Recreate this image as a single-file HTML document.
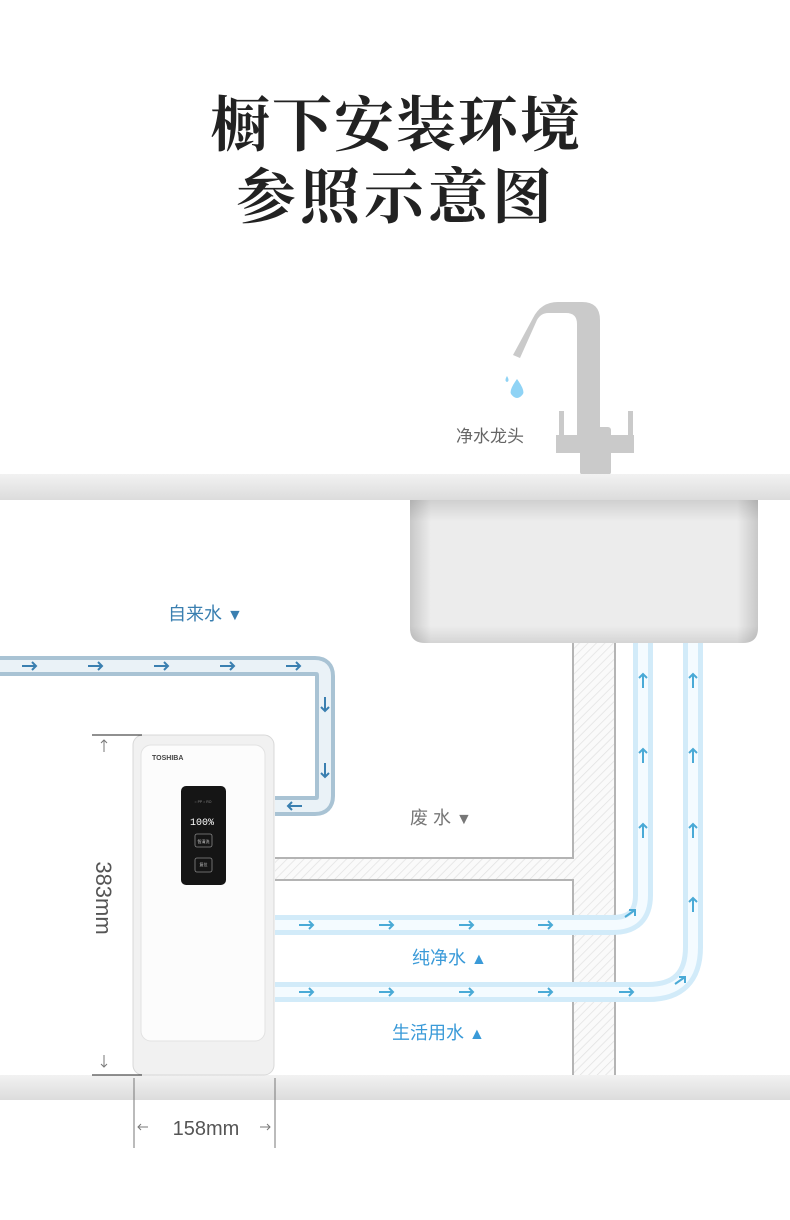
<!DOCTYPE html>
<html><head><meta charset="utf-8"><style>
html,body{margin:0;padding:0;background:#fff;}
body{width:790px;height:1215px;overflow:hidden;}
</style></head><body>
<svg width="790" height="1215" viewBox="0 0 790 1215" xmlns="http://www.w3.org/2000/svg">
<defs>
<linearGradient id="ct" x1="0" y1="0" x2="0" y2="1"><stop offset="0" stop-color="#f2f2f2"/><stop offset="1" stop-color="#dcdcdc"/></linearGradient>
<linearGradient id="skh" x1="0" y1="0" x2="1" y2="0"><stop offset="0" stop-color="#c8c8c8"/><stop offset="0.06" stop-color="#ececec"/><stop offset="0.94" stop-color="#ececec"/><stop offset="1" stop-color="#c8c8c8"/></linearGradient>
<linearGradient id="skv" x1="0" y1="0" x2="0" y2="1"><stop offset="0" stop-color="#000" stop-opacity="0.12"/><stop offset="0.15" stop-color="#000" stop-opacity="0"/><stop offset="0.88" stop-color="#000" stop-opacity="0"/><stop offset="1" stop-color="#000" stop-opacity="0.1"/></linearGradient>
<pattern id="hatch" width="6" height="6" patternUnits="userSpaceOnUse" patternTransform="rotate(45)"><rect width="6" height="6" fill="#fafafa"/><line x1="0" y1="0" x2="0" y2="6" stroke="#e2e2e2" stroke-width="1.5"/></pattern>
</defs>
<text x="396" y="146" text-anchor="middle" font-family="'Noto Serif CJK SC',serif" font-weight="bold" font-size="60" fill="#222" letter-spacing="2">橱下安装环境</text>
<text x="396" y="218" text-anchor="middle" font-family="'Noto Serif CJK SC',serif" font-weight="bold" font-size="60" fill="#222" letter-spacing="4">参照示意图</text>

<!-- faucet -->
<g fill="#cacaca">
<path d="M513 355 L533 318 Q541 302 558 302 L582 302 Q600 302 600 320 L600 440 L577 440 L577 324 Q577 313 566 313 L548 313 Q541 313 537 320 L520 358 Z"/>
<rect x="580" y="427" width="31" height="48" rx="3"/>
<rect x="556" y="435" width="78" height="18"/>
<rect x="559" y="411" width="5" height="26"/>
<rect x="628" y="411" width="5" height="26"/>
</g>
<path d="M507 376 q-3 5 0 6 q3 -1 0 -6z" fill="#8fd3f5"/>
<path d="M517 379 q-8 11 -6 15 q6 8 12 0 q2 -4 -6 -15z" fill="#8fd3f5"/>
<text x="456" y="442" font-family="'Liberation Sans','Noto Sans CJK SC',sans-serif" font-size="17" fill="#666">净水龙头</text>

<!-- countertop -->
<rect x="0" y="474" width="790" height="26" fill="url(#ct)"/>
<path d="M410 500 H758 V628 Q758 643 743 643 H425 Q410 643 410 628Z" fill="url(#skh)"/>
<path d="M410 500 H758 V628 Q758 643 743 643 H425 Q410 643 410 628Z" fill="url(#skv)"/>

<!-- waste pipe -->
<rect x="573" y="643" width="42" height="432" fill="url(#hatch)"/>
<rect x="275" y="858" width="300" height="22" fill="url(#hatch)"/>
<g stroke="#b4b4b4" stroke-width="2" fill="none">
<path d="M573 643 V858 H275"/>
<path d="M275 880 H573 V1075"/>
<path d="M615 643 V1075"/>
</g>
<text x="410" y="824" font-family="'Liberation Sans','Noto Sans CJK SC',sans-serif" font-size="18" fill="#777">废 水 <tspan font-size="16">▼</tspan></text>

<!-- tap water pipe -->
<path d="M0 666 H315 Q325 666 325 676 V796 Q325 806 315 806 H275" fill="none" stroke="#a9c3d4" stroke-width="20"/>
<path d="M0 666 H315 Q325 666 325 676 V796 Q325 806 315 806 H275" fill="none" stroke="#eaf2f7" stroke-width="12"/>
<g stroke="#3a7fb0" stroke-width="2" fill="none">
<path d="M22 666h14M32 662l4 4l-4 4"/><path d="M88 666h14M98 662l4 4l-4 4"/><path d="M154 666h14M164 662l4 4l-4 4"/><path d="M220 666h14M230 662l4 4l-4 4"/><path d="M286 666h14M296 662l4 4l-4 4"/>
<path d="M325 697v14M321 707l4 4l4 -4"/><path d="M325 763v14M321 773l4 4l4 -4"/>
<path d="M302 806h-14M292 802l-4 4l4 4"/>
</g>
<text x="168" y="620" font-family="'Liberation Sans','Noto Sans CJK SC',sans-serif" font-size="18" fill="#3a7fb0">自来水 <tspan font-size="16">▼</tspan></text>

<!-- pure water & living water pipes -->
<g fill="none">
<path d="M275 925 H613 Q643 925 643 895 V643" stroke="#d2ebf9" stroke-width="20"/>
<path d="M275 925 H613 Q643 925 643 895 V643" stroke="#f4fbff" stroke-width="10"/>
<path d="M275 992 H648 Q693 992 693 947 V643" stroke="#d2ebf9" stroke-width="20"/>
<path d="M275 992 H648 Q693 992 693 947 V643" stroke="#f4fbff" stroke-width="10"/>
</g>
<g stroke="#4aaad6" stroke-width="2" fill="none">
<path d="M299 925h14M309 921l4 4l-4 4"/><path d="M379 925h14M389 921l4 4l-4 4"/><path d="M459 925h14M469 921l4 4l-4 4"/><path d="M538 925h14M548 921l4 4l-4 4"/>
<path d="M299 992h14M309 988l4 4l-4 4"/><path d="M379 992h14M389 988l4 4l-4 4"/><path d="M459 992h14M469 988l4 4l-4 4"/><path d="M538 992h14M548 988l4 4l-4 4"/><path d="M619 992h14M629 988l4 4l-4 4"/>
<path d="M625 917l10 -7M629 910h6v6"/>
<path d="M675 984l10 -7M679 977h6v6"/>
<path d="M643 688v-14M639 678l4 -4l4 4"/><path d="M643 763v-14M639 753l4 -4l4 4"/><path d="M643 838v-14M639 828l4 -4l4 4"/>
<path d="M693 688v-14M689 678l4 -4l4 4"/><path d="M693 763v-14M689 753l4 -4l4 4"/><path d="M693 838v-14M689 828l4 -4l4 4"/><path d="M693 912v-14M689 902l4 -4l4 4"/>
</g>
<text x="412" y="964" font-family="'Liberation Sans','Noto Sans CJK SC',sans-serif" font-size="18" fill="#3a9ad8">纯净水 <tspan font-size="16">▲</tspan></text>
<text x="392" y="1039" font-family="'Liberation Sans','Noto Sans CJK SC',sans-serif" font-size="18" fill="#3a9ad8">生活用水 <tspan font-size="16">▲</tspan></text>

<!-- floor -->
<rect x="0" y="1075" width="790" height="25" fill="url(#ct)"/>

<!-- device -->
<rect x="133" y="735" width="141" height="340" rx="10" fill="#f1f1f1" stroke="#d8d8d8"/>
<rect x="141" y="745" width="124" height="296" rx="10" fill="#fcfcfc" stroke="#e2e2e2"/>
<text x="152" y="760" font-family="'Liberation Sans',sans-serif" font-size="7" font-weight="bold" fill="#444">TOSHIBA</text>
<rect x="181" y="786" width="45" height="99" rx="5" fill="#151515"/>
<text x="203" y="803" text-anchor="middle" font-family="'Liberation Sans',sans-serif" font-size="3.5" fill="#888">○ PP ○ RO</text>
<text x="202" y="825" text-anchor="middle" font-family="'Liberation Mono',monospace" font-size="10" fill="#fff">100%</text>
<rect x="195" y="834" width="17" height="13" rx="2" fill="none" stroke="#888" stroke-width="0.8"/>
<text x="203.5" y="843" text-anchor="middle" font-family="'Noto Sans CJK SC',sans-serif" font-size="4" fill="#ccc">智清洗</text>
<rect x="195" y="858" width="17" height="14" rx="2" fill="none" stroke="#888" stroke-width="0.8"/>
<text x="203.5" y="866" text-anchor="middle" font-family="'Noto Sans CJK SC',sans-serif" font-size="4" fill="#ccc">复位</text>

<!-- dimensions -->
<g stroke="#222" stroke-width="1"><line x1="92" y1="735" x2="142" y2="735"/><line x1="92" y1="1075" x2="142" y2="1075"/></g>
<g stroke="#777" stroke-width="1" fill="none">
<path d="M104 752v-12M101 743l3 -3l3 3"/><path d="M104 1055v12M101 1064l3 3l3 -3"/>
<line x1="134" y1="1078" x2="134" y2="1148"/><line x1="275" y1="1078" x2="275" y2="1148"/>
<path d="M138 1127h10M141 1124l-3 3l3 3"/><path d="M260 1127h10M267 1124l3 3l-3 3"/>
</g>
<text transform="translate(96,898) rotate(90)" text-anchor="middle" font-family="'Liberation Sans',sans-serif" font-size="22" fill="#555">383mm</text>
<text x="206" y="1135" text-anchor="middle" font-family="'Liberation Sans',sans-serif" font-size="20" fill="#555">158mm</text>
</svg>
</body></html>
